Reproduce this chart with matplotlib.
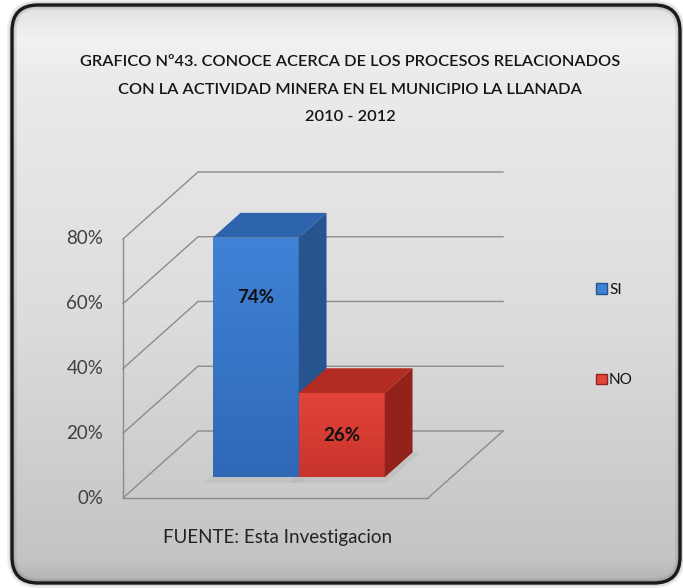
import numpy as np
import matplotlib
matplotlib.use('Agg')
import matplotlib.pyplot as plt
from matplotlib.patches import Polygon, FancyBboxPatch, Patch
from matplotlib.colors import LinearSegmentedColormap

# ---------------- data ----------------
categories = ['SI', 'NO']
values = [74, 26]
value_labels = ['74%', '26%']
yticks = [0, 20, 40, 60, 80]
ytick_labels = ['0%', '20%', '40%', '60%', '80%']
title_lines = ['GRAFICO Nº43. CONOCE ACERCA DE LOS PROCESOS RELACIONADOS',
               'CON LA ACTIVIDAD MINERA EN EL MUNICIPIO LA LLANADA',
               '2010 - 2012']
source_text = 'FUENTE: Esta Investigacion'

# ---------------- style ----------------
front_top = ['#3f82d6', '#e2443a']
front_bot = ['#2f69b6', '#c8342a']
top_cols = ['#2d64ad', '#b32c23']
side_cols = ['#25548f', '#93221b']
label_frac = [0.75, 0.5]
FONT = ['Lato', 'DejaVu Sans']

W, H = 683, 588
fig = plt.figure(figsize=(W / 100, H / 100), dpi=100)
fig.patch.set_facecolor('white')

# background frame (pixel coordinates axes)
bg = fig.add_axes([0, 0, 1, 1])
bg.set_xlim(0, W)
bg.set_ylim(0, H)
bg.axis('off')
fx, fy, fw, fh, rr = 12, 5, 668, 578, 26
frame = FancyBboxPatch((fx, fy), fw, fh,
                       boxstyle='round,pad=0,rounding_size=%d' % rr,
                       facecolor='none', edgecolor='#1a1a1a', linewidth=2.4, zorder=4)
bg.add_patch(frame)
grad_cmap = LinearSegmentedColormap.from_list(
    'bgc', [(0.0, '#b4b4b4'), (0.04, '#c4c4c4'), (0.45, '#dcdcdc'), (0.88, '#ebebeb'),
            (0.94, '#f2f2f2'), (1.0, '#e2e2e2')])
g = np.linspace(0, 1, 256).reshape(-1, 1)
im = bg.imshow(g, extent=(fx, fx + fw, fy, fy + fh), origin='lower', cmap=grad_cmap,
               aspect='auto', zorder=2)
clip = FancyBboxPatch((fx, fy), fw, fh,
                      boxstyle='round,pad=0,rounding_size=%d' % rr,
                      facecolor='none', edgecolor='none', transform=bg.transData)
im.set_clip_path(clip)
for lw, a in [(7, 0.10), (4.5, 0.12)]:
    bg.add_patch(FancyBboxPatch((fx, fy), fw, fh,
                                boxstyle='round,pad=0,rounding_size=%d' % rr,
                                facecolor='none', edgecolor='#505050', alpha=a,
                                linewidth=lw, zorder=3))

# ---------------- chart axes (front plane coordinates) ----------------
px_per_x = 152.5
px_per_y = 3.2375
x0_px, y0_px = 123, 498          # pixel of (x=0, y=0) front plane
ax = fig.add_axes([0, 0, 1, 1], facecolor='none')
ax.axis('off')

DX, DY = 0.492, 20.7     # full depth offset
X0, X1 = 0.0, 2.0
YMAX = yticks[-1]


def P(x, y, z):
    return (x + z * DX, y + z * DY)


grid_kw = dict(color='#8c8c8c', lw=1.0, zorder=2)
for a, b in [((X0, 0, 0), (X1, 0, 0)), ((X1, 0, 0), (X1, 0, 1))]:
    pa, pb = P(*a), P(*b)
    ax.plot([pa[0], pb[0]], [pa[1], pb[1]], **grid_kw)
for t in yticks:
    pa, pb, pc = P(X0, t, 0), P(X0, t, 1), P(X1, t, 1)
    ax.plot([pa[0], pb[0], pc[0]], [pa[1], pb[1], pc[1]], **grid_kw)
pa, pb = P(X0, 0, 0), P(X0, YMAX, 0)
ax.plot([pa[0], pb[0]], [pa[1], pb[1]], **grid_kw)

for t, lab in zip(yticks, ytick_labels):
    ax.text(X0 - 0.13, t, lab, ha='right', va='center', fontsize=13.5,
            color='#404040', family=FONT)

bw = 0.564
z0, z1 = 0.31, 0.68
center = (X0 + X1) / 2
for i, v in enumerate(values):
    xl = center + (i - len(values) / 2) * bw
    xr = xl + bw
    front = [P(xl, 0, z0), P(xr, 0, z0), P(xr, v, z0), P(xl, v, z0)]
    top = [P(xl, v, z0), P(xr, v, z0), P(xr, v, z1), P(xl, v, z1)]
    side = [P(xr, 0, z0), P(xr, 0, z1), P(xr, v, z1), P(xr, v, z0)]
    sh = [P(xl - 0.02, 0, z0 - 0.08), P(xr + 0.05, 0, z0 - 0.08), P(xr + 0.05, 0, z1), P(xl - 0.02, 0, z1)]
    ax.add_patch(Polygon(sh, closed=True, facecolor='#b0b0b0', edgecolor='none', alpha=0.35, zorder=3))
    fp = Polygon(front, closed=True, facecolor='none', edgecolor='none', zorder=4 + 3 * i)
    ax.add_patch(fp)
    cm = LinearSegmentedColormap.from_list('f%d' % i, [front_bot[i], front_top[i]])
    fx0, fy0 = front[0]
    fx1, fy1 = front[2]
    fim = ax.imshow(np.linspace(0, 1, 64).reshape(-1, 1), extent=(fx0, fx1, fy0, fy1),
                    origin='lower', cmap=cm, aspect='auto', zorder=4 + 3 * i)
    fim.set_clip_path(fp)
    ax.add_patch(Polygon(top, closed=True, facecolor=top_cols[i], edgecolor='none', zorder=5 + 3 * i))
    ax.add_patch(Polygon(side, closed=True, facecolor=side_cols[i], edgecolor='none', zorder=5 + 3 * i))
    lx, ly = P((xl + xr) / 2, v * label_frac[i], z0)
    ax.text(lx, ly, value_labels[i], ha='center', va='center', fontsize=13.5,
            fontweight='bold', color='#111111', family=FONT, zorder=20)
ax.set_xlim(-x0_px / px_per_x, (W - x0_px) / px_per_x)
ax.set_ylim(-(H - y0_px) / px_per_y, y0_px / px_per_y)

handles = [Patch(facecolor=front_top[i], edgecolor=side_cols[i], label=c)
           for i, c in enumerate(categories)]
leg = ax.legend(handles=handles, loc='upper left', bbox_to_anchor=(596 / W, 1 - 283 / H),
                frameon=False, handlelength=0.7, handleheight=0.7,
                handletextpad=0.15, labelspacing=5.0, borderpad=0, borderaxespad=0,
                prop={'family': FONT, 'size': 11})
for txt in leg.get_texts():
    txt.set_color('#111111')

for k, line in enumerate(title_lines):
    fig.text(350 / W, 1 - (62 + 27.5 * k) / H, line, ha='center', va='center',
             fontsize=11.8, fontweight='semibold', color='#151515', family=FONT)

fig.text(163 / W, 1 - 538 / H, source_text, ha='left', va='center', fontsize=13.5,
         color='#222222', family=FONT)

fig.savefig('out.png', dpi=100, facecolor='white')
